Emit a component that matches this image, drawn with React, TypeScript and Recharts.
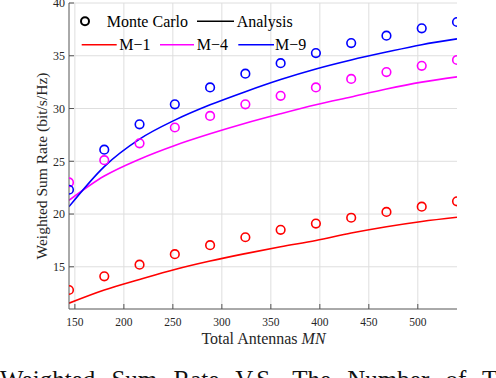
import React from 'react';
import { LineChart, Line, XAxis, YAxis, CartesianGrid, Legend, Label } from 'recharts';

// ---- data ----
const antennas = [144, 180, 216, 252, 288, 324, 360, 396, 432, 468, 504, 540];
const monteCarloM1 = [12.8, 14.1, 15.2, 16.2, 17.05, 17.8, 18.5, 19.1, 19.65, 20.2, 20.7, 21.2];
const monteCarloM4 = [23.0, 25.1, 26.7, 28.2, 29.3, 30.4, 31.2, 32.0, 32.8, 33.45, 34.05, 34.6];
const monteCarloM9 = [22.3, 26.1, 28.5, 30.4, 32.0, 33.3, 34.3, 35.25, 36.2, 36.9, 37.6, 38.2];
const analysisM1 = [11.55, 12.8, 13.8, 14.75, 15.55, 16.25, 16.9, 17.5, 18.2, 18.8, 19.3, 19.7];
const analysisM4 = [21.3, 23.6, 25.2, 26.5, 27.6, 28.6, 29.5, 30.35, 31.1, 31.85, 32.5, 33.0];
const analysisM9 = [20.7, 24.5, 27.1, 28.9, 30.35, 31.6, 32.75, 33.75, 34.6, 35.35, 36.05, 36.6];
const xTicks = [150, 200, 250, 300, 350, 400, 450, 500];
const yTicks = [15, 20, 25, 30, 35, 40];
const xDomain = [144, 540];
const yDomain = [11, 40];
const seriesLabels = ['M\u22121', 'M\u22124', 'M\u22129'];
const legendKinds = ['Monte Carlo', 'Analysis'];

const data = antennas.map((mn, i) => ({
  mn,
  mc1: monteCarloM1[i],
  mc4: monteCarloM4[i],
  mc9: monteCarloM9[i],
  an1: analysisM1[i],
  an4: analysisM4[i],
  an9: analysisM9[i],
}));

const FONT = "'Liberation Serif', 'Times New Roman', Times, serif";
const serif = { fontFamily: FONT };
const AXIS = '#555555';
const TXT = '#262626';
const GRID = '#dedede';
const RED = '#ff0000';
const MAG = '#ff00ff';
const BLUE = '#0000ff';

const X_MARGIN = 9;
const Y_MARGIN = 4;
const TICK_LEN = 5;

const BottomTick = (props: any) => {
  const { x, y, payload } = props;
  const axisY = y - X_MARGIN;
  return (
    <g>
      <line x1={x} x2={x} y1={axisY} y2={axisY - TICK_LEN} stroke={AXIS} strokeWidth={1} />
      <text x={x} y={y} dy="0.71em" textAnchor="middle" style={serif} fontSize={11.5} fill={TXT}>
        {payload.value}
      </text>
    </g>
  );
};

const LeftTick = (props: any) => {
  const { x, y, payload } = props;
  const axisX = x + Y_MARGIN;
  return (
    <g>
      <line x1={axisX} x2={axisX + TICK_LEN} y1={y} y2={y} stroke={AXIS} strokeWidth={1} />
      <text x={x} y={y} dy="0.355em" textAnchor="end" style={serif} fontSize={12} fill={TXT}>
        {payload.value}
      </text>
    </g>
  );
};

const RightTick = (props: any) => {
  const { x, y } = props;
  return <line x1={x} x2={x - TICK_LEN} y1={y} y2={y} stroke={AXIS} strokeWidth={1} />;
};

const TopTick = (props: any) => {
  const { x, y } = props;
  return <line x1={x} x2={x} y1={y} y2={y + TICK_LEN} stroke={AXIS} strokeWidth={1} />;
};

const LegendContent = () => (
  <svg width={496} height={60} style={{ display: 'block' }}>
    <g fontSize={16} fill="#000">
      <circle cx={85} cy={21.3} r={4} fill="none" stroke="#000" strokeWidth={2} />
      <text x={106.7} y={26.6} style={serif}>{legendKinds[0]}</text>
      <line x1={197} x2={234} y1={21.3} y2={21.3} stroke="#000" strokeWidth={1.6} />
      <text x={236.7} y={26.6} style={serif}>{legendKinds[1]}</text>

      <line x1={81.7} x2={116.7} y1={44.7} y2={44.7} stroke={RED} strokeWidth={1.6} />
      <text x={119.3} y={50} style={serif}>{seriesLabels[0]}</text>
      <line x1={160} x2={194} y1={44.7} y2={44.7} stroke={MAG} strokeWidth={1.6} />
      <text x={196.7} y={50} style={serif}>{seriesLabels[1]}</text>
      <line x1={238.3} x2={274} y1={44.7} y2={44.7} stroke={BLUE} strokeWidth={1.6} />
      <text x={275} y={50} style={serif}>{seriesLabels[2]}</text>
    </g>
  </svg>
);

const YLabelContent = () => (
  <text
    transform="translate(41,166) rotate(-90)"
    textAnchor="middle"
    dominantBaseline="central"
    style={serif}
    fontSize={15.5}
    fill={TXT}
  >
    Weighted Sum Rate (bit/s/Hz)
  </text>
);

const XLabelContent = () => (
  <text x={263.5} y={344} textAnchor="middle" style={serif} fontSize={16} fill={TXT}>
    Total Antennas <tspan fontStyle="italic">MN</tspan>
  </text>
);

const mcDot = (color: string) => ({ r: 4.3, stroke: color, strokeWidth: 1.6, fill: 'none' });

export default function App() {
  return (
    <div
      style={{
        position: 'absolute',
        left: 0,
        top: 0,
        width: 496,
        height: 378,
        overflow: 'hidden',
        background: '#fff',
        fontFamily: FONT,
      }}
    >
      <LineChart width={496} height={378} data={data} margin={{ top: 3, right: 39, left: 0, bottom: 0 }}>
        <CartesianGrid stroke={GRID} strokeWidth={1} horizontalValues={yTicks} verticalValues={xTicks} />
        <XAxis
          dataKey="mn"
          type="number"
          domain={xDomain}
          ticks={xTicks}
          interval={0}
          height={69}
          tickSize={0}
          tickMargin={X_MARGIN}
          tickLine={false}
          tick={BottomTick}
          stroke={AXIS}
          allowDataOverflow
        >
          <Label content={XLabelContent} />
        </XAxis>
        <XAxis
          xAxisId="top"
          orientation="top"
          dataKey="mn"
          type="number"
          domain={xDomain}
          ticks={xTicks}
          interval={0}
          height={0}
          tickSize={0}
          tickMargin={0}
          tickLine={false}
          axisLine={false}
          tick={TopTick}
          allowDataOverflow
        />
        <YAxis
          type="number"
          domain={yDomain}
          ticks={yTicks}
          interval={0}
          width={69}
          tickSize={0}
          tickMargin={Y_MARGIN}
          tickLine={false}
          tick={LeftTick}
          stroke={AXIS}
          allowDataOverflow
        >
          <Label content={YLabelContent} />
        </YAxis>
        <YAxis
          yAxisId="right"
          orientation="right"
          type="number"
          domain={yDomain}
          ticks={yTicks}
          interval={0}
          width={0}
          tickSize={0}
          tickMargin={0}
          tickLine={false}
          tick={RightTick}
          stroke={AXIS}
          allowDataOverflow
        />
        <Legend
          verticalAlign="middle"
          layout="horizontal"
          wrapperStyle={{ position: 'absolute', top: 0, left: 0, width: 496, height: 60 }}
          content={LegendContent}
        />
        <Line dataKey="an1" type="monotone" stroke={RED} strokeWidth={1.6} dot={false} activeDot={false} isAnimationActive={false} />
        <Line dataKey="an4" type="monotone" stroke={MAG} strokeWidth={1.6} dot={false} activeDot={false} isAnimationActive={false} />
        <Line dataKey="an9" type="monotone" stroke={BLUE} strokeWidth={1.6} dot={false} activeDot={false} isAnimationActive={false} />
        <Line dataKey="mc1" stroke="none" dot={mcDot(RED)} activeDot={false} isAnimationActive={false} />
        <Line dataKey="mc4" stroke="none" dot={mcDot(MAG)} activeDot={false} isAnimationActive={false} />
        <Line dataKey="mc9" stroke="none" dot={mcDot(BLUE)} activeDot={false} isAnimationActive={false} />
      </LineChart>
      <div
        style={{
          position: 'absolute',
          left: 0,
          top: 367,
          whiteSpace: 'nowrap',
          fontFamily: FONT,
          fontSize: 25,
          lineHeight: '25px',
          wordSpacing: 10,
          color: '#111',
        }}
      >
        Weighted Sum Rate V.S. The Number of Total Antennas
      </div>
    </div>
  );
}
